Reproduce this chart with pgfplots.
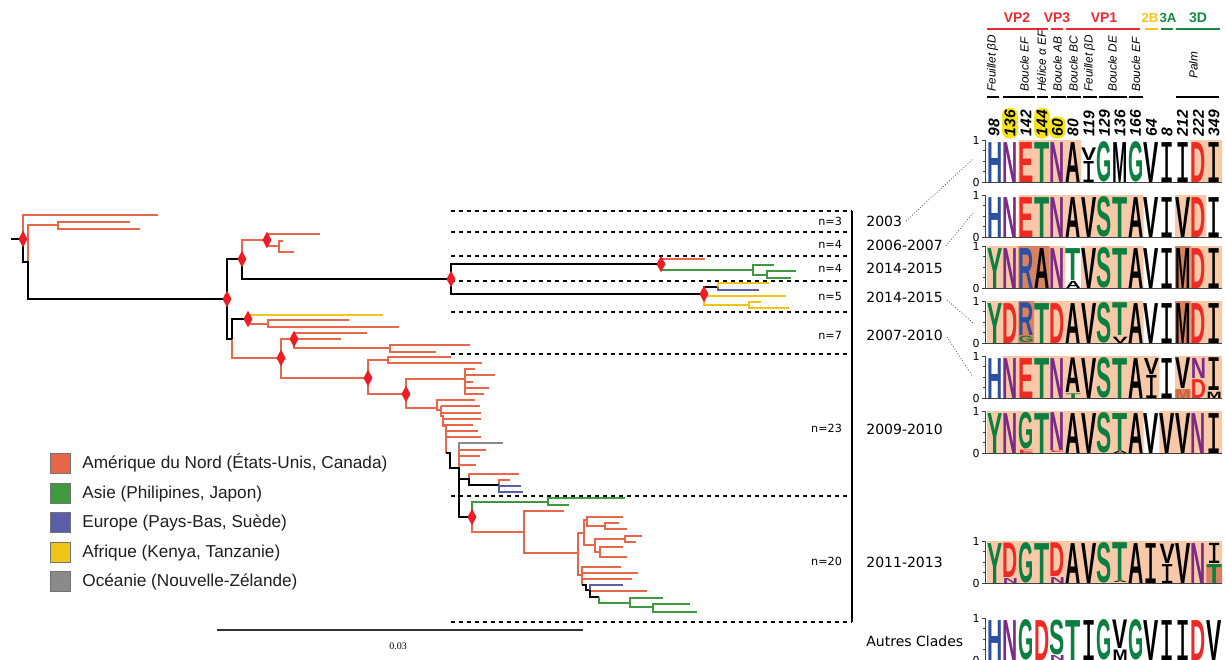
\documentclass[border=0pt]{standalone}
\usepackage{pgfplots}
\pgfplotsset{compat=1.18}
\usepackage{fontspec}
\usepackage{graphicx}
\setmainfont{Liberation Sans}
\newfontfamily\dvs{DejaVu Sans}
\newfontfamily\logof{Liberation Sans}
\newfontfamily\monof{DejaVu Sans Mono}
\newfontfamily\serf{Liberation Serif}
\definecolor{nab}{HTML}{E8674A}
\definecolor{asi}{HTML}{3F9A3F}
\definecolor{eur}{HTML}{5A5DA8}
\definecolor{afr}{HTML}{F0C419}
\definecolor{oce}{HTML}{8A8A8A}
\definecolor{dia}{HTML}{EE1C25}
\definecolor{lB}{HTML}{2A4FA3}
\definecolor{lP}{HTML}{7B2A88}
\definecolor{lR}{HTML}{EE2A24}
\definecolor{lG}{HTML}{0A7F3F}
\definecolor{lK}{HTML}{000000}
\definecolor{lO}{HTML}{C8643A}
\definecolor{peach}{HTML}{F7C9A9}
\definecolor{dpeach}{HTML}{D9825F}
\definecolor{hl}{HTML}{F6E31B}
\definecolor{vpred}{HTML}{EE2A2E}
\definecolor{vpy}{HTML}{F5C518}
\definecolor{vpg}{HTML}{138A43}
\newcommand\Imono{{\monof\mdseries I}}
\newcommand\LL[6]{\node[inner sep=0pt,outer sep=0pt,anchor=south,text=#5] at (axis cs:{987+15.667*(#2-0.5)},{#1-42*#3}) {\pgfmathsetlengthmacro\hh{21*#4}\resizebox{7.6pt}{\hh}{\logof\bfseries #6}};}
\newcommand\F[4]{\LL{#1}{#2}{0}{0.95}{#3}{#4}}
\newcommand\RECT[5]{\addplot[fill=#5, draw=none] coordinates {(#1,#3)(#2,#3)(#2,#4)(#1,#4)(#1,#3)};}
\newcommand\PANEL[5]{\addplot[black!75, line width=0.4pt] coordinates {(985,#2)(985,#1)(1222,#1) (nan,nan) (982,#1)(985,#1) (nan,nan) (983,#3)(985,#3) (nan,nan) (983,#4)(985,#4) (nan,nan) (983,#5)(985,#5) (nan,nan) (982,#2)(985,#2)};
\node[anchor=east, font=\dvs\fontsize{5.5}{6}\selectfont, inner sep=0.5pt] at (axis cs:981,#2) {1};
\node[anchor=east, font=\dvs\fontsize{5.5}{6}\selectfont, inner sep=0.5pt] at (axis cs:981,#1) {0};}
\newcommand\NUM[3]{\node[rotate=90, anchor=west, font=\bfseries\itshape\fontsize{7.8}{8}\selectfont, inner sep=0.3pt] at (axis cs:#1,#2) {#3};}
\newcommand\NUMH[3]{\node[rotate=90, anchor=west, font=\bfseries\itshape\fontsize{7.8}{8}\selectfont, inner sep=1.2pt, fill=hl, rounded corners=3.5pt] at (axis cs:#1,#2) {#3};}
\newcommand\HL[3]{\node[rotate=90, anchor=west, font=\itshape\fontsize{5.9}{6}\selectfont, inner sep=0pt] at (axis cs:#1,#2) {#3};}
\begin{document}
\begin{tikzpicture}
\useasboundingbox (0,0) rectangle (613pt,329.5pt);
\begin{axis}[at={(0,0)}, anchor=south west, width=613pt, height=329.5pt, scale only axis,
  xmin=0, xmax=1226, ymin=0, ymax=659, y dir=reverse, hide axis, clip=false,
  enlargelimits=false, unbounded coords=jump]
% ---------- tree: North America (orange)
\addplot[nab, line width=1pt] coordinates {
(23,239)(23,215)(158,215) (nan,nan)
(28,262)(28,225)(58,225) (nan,nan)
(130,222)(58,222)(58,229)(140,229) (nan,nan)
(242,259)(242,240)(267,240) (nan,nan)
(320,234)(267,234)(267,246)(279,246) (nan,nan)
(283,241)(279,241)(279,252)(294,252) (nan,nan)
(661,264)(661,259)(705,259) (nan,nan)
(248,319)(248,324)(268,324) (nan,nan)
(349,320)(268,320)(268,327)(399,327) (nan,nan)
(232,339)(232,358)(281,358) (nan,nan)
(294,339)(281,339)(281,378)(368,378) (nan,nan)
(367,333)(294,333)(294,348)(390,348) (nan,nan)
(294,339)(341,339) (nan,nan)
(470,345)(390,345)(390,352)(436,352) (nan,nan)
(368,378)(368,360)(388,360) (nan,nan)
(451,357)(388,357)(388,363)(482,363) (nan,nan)
(368,378)(368,394)(406,394) (nan,nan)
(406,394)(406,379)(465,379) (nan,nan)
(475,369)(465,369)(465,394)(484,394) (nan,nan)
(465,375)(495,375) (nan,nan)
(465,382)(473,382) (nan,nan)
(465,388)(489,388) (nan,nan)
(406,394)(406,408)(437,408) (nan,nan)
(475,400)(437,400)(437,410)(441,410) (nan,nan)
(441,406)(441,416)(443,416)(443,426)(446,426)(446,453) (nan,nan)
(441,406)(480,406) (nan,nan)
(441,413)(481,413) (nan,nan)
(443,419)(481,419) (nan,nan)
(443,425)(473,425) (nan,nan)
(446,431)(478,431) (nan,nan)
(446,437)(481,437) (nan,nan)
(459,450)(459,468) (nan,nan)
(459,450)(486,450) (nan,nan)
(459,456)(480,456) (nan,nan)
(459,465)(476,465) (nan,nan)
(469,479)(469,474)(519,474) (nan,nan)
(499,485)(499,480)(510,480) (nan,nan)
(472,517)(472,532)(524,532) (nan,nan)
(564,511)(524,511)(524,553)(578,553) (nan,nan)
(584,533)(578,533)(578,575)(582,575) (nan,nan)
(587,520)(584,520)(584,545)(595,545) (nan,nan)
(623,517)(587,517)(587,526)(605,526) (nan,nan)
(619,523)(605,523)(605,529)(627,529) (nan,nan)
(625,539)(595,539)(595,552)(600,552) (nan,nan)
(642,536)(625,536)(625,542)(636,542) (nan,nan)
(623,547)(600,547)(600,557)(627,557) (nan,nan)
(621,567)(582,567)(582,585) (nan,nan)
(582,573)(638,573) (nan,nan)
(582,579)(632,579) (nan,nan)
(590,590)(590,591)(647,591)
};
% black backbone
\addplot[black, line width=1.25pt] coordinates {
(11,239)(23,239)(23,262)(28,262)(28,299)(227,299) (nan,nan)
(242,259)(227,259)(227,339)(232,339) (nan,nan)
(232,339)(232,319)(248,319) (nan,nan)
(242,259)(242,279)(451,279) (nan,nan)
(661,264)(451,264)(451,294)(704,294) (nan,nan)
(704,294)(704,287)(718,287) (nan,nan)
(446,453)(450,453)(450,468)(459,468)(459,517)(472,517) (nan,nan)
(459,479)(469,479)(469,485)(499,485) (nan,nan)
(582,585)(586,585)(586,590)(590,590)(590,597)(599,597)
};
% Asia (green)
\addplot[asi, line width=1pt] coordinates {
(661,264)(661,270)(753,270) (nan,nan)
(774,265)(753,265)(753,275)(767,275) (nan,nan)
(796,271)(767,271)(767,278)(791,278) (nan,nan)
(472,517)(472,502)(548,502) (nan,nan)
(625,498)(548,498)(548,505)(569,505) (nan,nan)
(599,597)(599,603)(630,603) (nan,nan)
(663,598)(630,598)(630,607)(653,607) (nan,nan)
(690,604)(653,604)(653,612)(697,612)
};
% Africa (yellow)
\addplot[afr, line width=1pt] coordinates {
(248,319)(248,315)(383,315) (nan,nan)
(769,283)(718,283)(718,287) (nan,nan)
(704,294)(704,296)(786,296) (nan,nan)
(704,296)(704,305)(749,305) (nan,nan)
(761,302)(749,302)(749,308)(789,308)
};
% Europe (blue)
\addplot[eur, line width=1pt] coordinates {
(718,287)(718,290)(759,290) (nan,nan)
(521,486)(499,486)(499,492)(523,492) (nan,nan)
(590,590)(590,585)(623,585)
};
% Oceania (gray)
\addplot[oce, line width=1pt] coordinates {(503,443)(459,443)(459,450)};
% nodes
\addplot[only marks, mark=diamond*, mark size=3.7pt, mark options={xscale=0.72, fill=dia, draw=dia}] coordinates {
(23,239)(227,299)(242,259)(267,240)(451,279)(661,264)(704,294)(248,319)(281,358)(294,339)(368,378)(406,394)(472,517)};
% clade separators
\addplot[black, line width=0.6pt, dash pattern=on 2.2pt off 1.8pt] coordinates {
(451,211)(852,211) (nan,nan) (451,232)(852,232) (nan,nan) (451,256)(852,256) (nan,nan)
(451,281)(852,281) (nan,nan) (451,312)(852,312) (nan,nan) (451,354)(852,354) (nan,nan)
(451,496)(852,496) (nan,nan) (451,622)(852,622)};
\addplot[black, line width=0.7pt] coordinates {(852,211)(852,622)};
\node[anchor=east, font=\dvs\fontsize{5.6}{6}\selectfont] at (axis cs:849,221) {n=3};
\node[anchor=east, font=\dvs\fontsize{5.6}{6}\selectfont] at (axis cs:849,244) {n=4};
\node[anchor=east, font=\dvs\fontsize{5.6}{6}\selectfont] at (axis cs:849,268) {n=4};
\node[anchor=east, font=\dvs\fontsize{5.6}{6}\selectfont] at (axis cs:849,296) {n=5};
\node[anchor=east, font=\dvs\fontsize{5.6}{6}\selectfont] at (axis cs:849,335) {n=7};
\node[anchor=east, font=\dvs\fontsize{5.6}{6}\selectfont] at (axis cs:849,428) {n=23};
\node[anchor=east, font=\dvs\fontsize{5.6}{6}\selectfont] at (axis cs:849,561) {n=20};
% period labels
\node[anchor=west, font=\dvs\fontsize{7}{8}\selectfont, inner sep=0pt] at (axis cs:866,221) {2003};
\node[anchor=west, font=\dvs\fontsize{7}{8}\selectfont, inner sep=0pt] at (axis cs:866,245) {2006-2007};
\node[anchor=west, font=\dvs\fontsize{7}{8}\selectfont, inner sep=0pt] at (axis cs:866,268) {2014-2015};
\node[anchor=west, font=\dvs\fontsize{7}{8}\selectfont, inner sep=0pt] at (axis cs:866,297) {2014-2015};
\node[anchor=west, font=\dvs\fontsize{7}{8}\selectfont, inner sep=0pt] at (axis cs:866,335) {2007-2010};
\node[anchor=west, font=\dvs\fontsize{7}{8}\selectfont, inner sep=0pt] at (axis cs:866,429) {2009-2010};
\node[anchor=west, font=\dvs\fontsize{7}{8}\selectfont, inner sep=0pt] at (axis cs:866,562) {2011-2013};
\node[anchor=west, font=\dvs\fontsize{7}{8}\selectfont, inner sep=0pt] at (axis cs:866,641) {Autres Clades};
\addplot[black!70, line width=0.4pt, densely dotted] coordinates {
(906,221)(973,159) (nan,nan) (946,246)(973,213) (nan,nan) (947,300)(973,323) (nan,nan) (947,337)(973,377)};
% scale bar
\addplot[black!80, line width=0.6pt] coordinates {(217,630)(583,630)};
\node[font=\serf\fontsize{5}{6}\selectfont] at (axis cs:398,646) {0.03};
% legend
\addplot[fill=nab, draw=black!55, line width=0.35pt] coordinates {(50,453)(70,453)(70,473)(50,473)(50,453)};
\addplot[fill=asi, draw=black!55, line width=0.35pt] coordinates {(50,483)(70,483)(70,503)(50,503)(50,483)};
\addplot[fill=eur, draw=black!55, line width=0.35pt] coordinates {(50,512)(70,512)(70,532)(50,532)(50,512)};
\addplot[fill=afr, draw=black!55, line width=0.35pt] coordinates {(50,542)(70,542)(70,562)(50,562)(50,542)};
\addplot[fill=oce, draw=black!55, line width=0.35pt] coordinates {(50,571)(70,571)(70,591)(50,591)(50,571)};
\node[anchor=base west, font=\fontsize{8.6}{10}\selectfont, inner sep=0pt, text=black!88] at (axis cs:82,468.5) {Amérique du Nord (États-Unis, Canada)};
\node[anchor=base west, font=\fontsize{8.6}{10}\selectfont, inner sep=0pt, text=black!88] at (axis cs:82,498.5) {Asie (Philipines, Japon)};
\node[anchor=base west, font=\fontsize{8.6}{10}\selectfont, inner sep=0pt, text=black!88] at (axis cs:82,527.5) {Europe (Pays-Bas, Suède)};
\node[anchor=base west, font=\fontsize{8.6}{10}\selectfont, inner sep=0pt, text=black!88] at (axis cs:82,557.5) {Afrique (Kenya, Tanzanie)};
\node[anchor=base west, font=\fontsize{8.6}{10}\selectfont, inner sep=0pt, text=black!88] at (axis cs:82,586.5) {Océanie (Nouvelle-Zélande)};
% ---------- header
\node[font=\bfseries\fontsize{7}{8}\selectfont, text=vpred] at (axis cs:1017,18) {VP2};
\node[font=\bfseries\fontsize{7}{8}\selectfont, text=vpred] at (axis cs:1057,18) {VP3};
\node[font=\bfseries\fontsize{7}{8}\selectfont, text=vpred] at (axis cs:1104,18) {VP1};
\node[font=\bfseries\fontsize{6.6}{8}\selectfont, text=vpy, inner sep=0pt] at (axis cs:1150,18) {2B};
\node[font=\bfseries\fontsize{6.6}{8}\selectfont, text=vpg, inner sep=0pt] at (axis cs:1168,18) {3A};
\node[font=\bfseries\fontsize{7}{8}\selectfont, text=vpg] at (axis cs:1198,18) {3D};
\addplot[vpred, line width=1pt] coordinates {(987,29)(1048,29) (nan,nan) (1051,29)(1063,29) (nan,nan) (1066,29)(1140,29)};
\addplot[vpy, line width=1pt] coordinates {(1145,29)(1158,29)};
\addplot[vpg, line width=1pt] coordinates {(1161,29)(1173,29) (nan,nan) (1176,29)(1220,29)};
\HL{992.5}{92}{Feuillet βD}
\HL{1024.5}{92}{Boucle EF}
\HL{1041.5}{92}{Hélice α EF}
\HL{1057.5}{92}{Boucle AB}
\HL{1073.5}{92}{Boucle BC}
\HL{1089.5}{92}{Feuillet βD}
\HL{1112.5}{92}{Boucle DE}
\HL{1136}{92}{Boucle EF}
\HL{1193.5}{79}{Palm}
\addplot[black, line width=0.8pt] coordinates {
(987,97)(999,97) (nan,nan) (1003,97)(1035,97) (nan,nan) (1037,97)(1048,97) (nan,nan)
(1051,97)(1066,97) (nan,nan) (1067,97)(1081,97) (nan,nan) (1083,97)(1097,97) (nan,nan)
(1099,97)(1127,97) (nan,nan) (1129,97)(1143,97) (nan,nan) (1176,97)(1219,97)};
\NUM{994}{137}{98}
\NUMH{1010}{139}{136}
\NUM{1026}{137}{142}
\NUMH{1042}{139}{144}
\NUMH{1057.5}{139}{60}
\NUM{1073}{137}{80}
\NUM{1089}{137}{119}
\NUM{1104.5}{137}{129}
\NUM{1120}{137}{136}
\NUM{1135.5}{137}{166}
\NUM{1151.5}{137}{64}
\NUM{1167}{137}{8}
\NUM{1182.5}{137}{212}
\NUM{1198.5}{137}{222}
\NUM{1214}{137}{349}
% ---------- logo backgrounds
\RECT{1018.33}{1081}{140}{182}{peach}
\RECT{1190.67}{1222}{140}{182}{peach}
\RECT{1018.33}{1143.67}{195}{237}{peach}
\RECT{1175}{1206.33}{195}{237}{peach}
\RECT{987}{1065.33}{246}{288}{peach}
\RECT{1081}{1143.67}{246}{288}{peach}
\RECT{1175}{1222}{246}{288}{peach}
\RECT{1018.33}{1049.67}{246}{288}{dpeach}
\RECT{1175}{1190.67}{246}{288}{dpeach}
\RECT{987}{1143.67}{301}{343}{peach}
\RECT{1175}{1222}{301}{343}{peach}
\RECT{1018.33}{1034}{301}{343}{dpeach}
\RECT{1175}{1190.67}{301}{343}{dpeach}
\RECT{1002.67}{1159.33}{356}{398}{peach}
\RECT{1175}{1222}{356}{398}{peach}
\RECT{1175}{1190.67}{389}{398}{dpeach}
\RECT{987}{1143.67}{411}{453}{peach}
\RECT{1159.33}{1222}{411}{453}{peach}
\RECT{987}{1222}{541}{583}{peach}
\RECT{1206.33}{1222}{564}{583}{dpeach}
\PANEL{182}{140}{171.5}{161}{150.5}
\PANEL{237}{195}{226.5}{216}{205.5}
\PANEL{288}{246}{277.5}{267}{256.5}
\PANEL{343}{301}{332.5}{322}{311.5}
\PANEL{398}{356}{387.5}{377}{366.5}
\PANEL{453}{411}{442.5}{432}{421.5}
\PANEL{583}{541}{572.5}{562}{551.5}
\PANEL{660}{618}{649.5}{639}{628.5}
% ---------- logo letters
% P1 2003
\F{182}{1}{lB}{H}\F{182}{2}{lP}{N}\F{182}{3}{lR}{E}\F{182}{4}{lG}{T}\F{182}{5}{lP}{N}\F{182}{6}{lK}{A}
\LL{182}{7}{0}{0.5}{lK}{\Imono}\LL{182}{7}{0.52}{0.3}{lK}{V}
\F{182}{8}{lG}{G}\F{182}{9}{lK}{M}\F{182}{10}{lG}{G}\F{182}{11}{lK}{V}\F{182}{12}{lK}{\Imono}\F{182}{13}{lK}{\Imono}\F{182}{14}{lR}{D}\F{182}{15}{lK}{\Imono}
% P2 2006-2007
\F{237}{1}{lB}{H}\F{237}{2}{lP}{N}\F{237}{3}{lR}{E}\F{237}{4}{lG}{T}\F{237}{5}{lP}{N}\F{237}{6}{lK}{A}\F{237}{7}{lK}{V}\F{237}{8}{lG}{S}
\F{237}{9}{lG}{T}\F{237}{10}{lK}{A}\F{237}{11}{lK}{V}\F{237}{12}{lK}{\Imono}\F{237}{13}{lK}{V}\F{237}{14}{lR}{D}\F{237}{15}{lK}{\Imono}
% P3 2014-2015
\F{288}{1}{lG}{Y}\F{288}{2}{lP}{N}\F{288}{3}{lB}{R}\F{288}{4}{lK}{A}\F{288}{5}{lP}{N}
\LL{288}{6}{0}{0.17}{lK}{A}\LL{288}{6}{0.19}{0.76}{lG}{T}
\F{288}{7}{lK}{V}\F{288}{8}{lG}{S}\F{288}{9}{lG}{T}\F{288}{10}{lK}{A}\F{288}{11}{lK}{V}\F{288}{12}{lK}{\Imono}\F{288}{13}{lK}{M}\F{288}{14}{lR}{D}\F{288}{15}{lK}{\Imono}
% P4 2014-2015
\F{343}{1}{lG}{Y}\F{343}{2}{lR}{D}
\LL{343}{3}{0}{0.15}{lG}{G}\LL{343}{3}{0.17}{0.78}{lB}{R}
\F{343}{4}{lG}{T}\F{343}{5}{lR}{D}\F{343}{6}{lK}{A}\F{343}{7}{lK}{V}\F{343}{8}{lG}{S}
\LL{343}{9}{0}{0.15}{lK}{V}\LL{343}{9}{0.17}{0.78}{lG}{T}
\F{343}{10}{lK}{A}\F{343}{11}{lK}{V}\F{343}{12}{lK}{\Imono}\F{343}{13}{lK}{M}\F{343}{14}{lR}{D}\F{343}{15}{lK}{\Imono}
% P5 2007-2010
\F{398}{1}{lB}{H}\F{398}{2}{lP}{N}\F{398}{3}{lR}{E}\F{398}{4}{lG}{T}\F{398}{5}{lP}{N}
\LL{398}{6}{0}{0.11}{lG}{T}\LL{398}{6}{0.13}{0.82}{lK}{A}
\F{398}{7}{lK}{V}\F{398}{8}{lG}{S}\F{398}{9}{lG}{T}\F{398}{10}{lK}{A}
\LL{398}{11}{0}{0.55}{lK}{\Imono}\LL{398}{11}{0.57}{0.38}{lK}{V}
\F{398}{12}{lK}{\Imono}
\LL{398}{13}{0}{0.2}{lO}{M}\LL{398}{13}{0.22}{0.73}{lK}{V}
\LL{398}{14}{0}{0.45}{lR}{D}\LL{398}{14}{0.47}{0.48}{lP}{N}
\LL{398}{15}{0}{0.15}{lK}{M}\LL{398}{15}{0.17}{0.78}{lK}{\Imono}
% P6 2009-2010
\F{453}{1}{lG}{Y}\F{453}{2}{lP}{N}
\LL{453}{3}{0}{0.08}{lR}{E}\LL{453}{3}{0.09}{0.86}{lG}{G}
\F{453}{4}{lG}{T}
\LL{453}{5}{0}{0.04}{lR}{E}\LL{453}{5}{0.05}{0.9}{lP}{N}
\F{453}{6}{lK}{A}\F{453}{7}{lK}{V}\F{453}{8}{lG}{S}
\LL{453}{9}{0}{0.06}{lK}{A}\LL{453}{9}{0.07}{0.88}{lG}{T}
\F{453}{10}{lK}{A}\F{453}{11}{lK}{V}\F{453}{12}{lK}{V}\F{453}{13}{lK}{V}\F{453}{14}{lP}{N}\F{453}{15}{lK}{\Imono}
% P7 2011-2013
\F{583}{1}{lG}{Y}
\LL{583}{2}{0}{0.12}{lP}{N}\LL{583}{2}{0.13}{0.82}{lR}{D}
\F{583}{3}{lG}{G}\F{583}{4}{lG}{T}
\LL{583}{5}{0}{0.14}{lP}{N}\LL{583}{5}{0.15}{0.8}{lR}{D}
\F{583}{6}{lK}{A}\F{583}{7}{lK}{V}\F{583}{8}{lG}{S}
\LL{583}{9}{0}{0.04}{lK}{A}\LL{583}{9}{0.05}{0.9}{lG}{T}
\F{583}{10}{lK}{A}\F{583}{11}{lK}{\Imono}
\LL{583}{12}{0}{0.45}{lK}{\Imono}\LL{583}{12}{0.47}{0.46}{lK}{V}
\F{583}{13}{lK}{V}\F{583}{14}{lP}{N}
\LL{583}{15}{0}{0.45}{lG}{T}\LL{583}{15}{0.47}{0.48}{lK}{\Imono}
% P8 Autres clades
\F{660}{1}{lB}{H}\F{660}{2}{lP}{N}\F{660}{3}{lG}{G}\F{660}{4}{lR}{D}
\LL{660}{5}{0}{0.12}{lP}{N}\LL{660}{5}{0.13}{0.82}{lG}{S}
\F{660}{6}{lG}{T}\F{660}{7}{lK}{\Imono}\F{660}{8}{lG}{G}
\LL{660}{9}{0}{0.25}{lK}{M}\LL{660}{9}{0.27}{0.68}{lK}{V}
\F{660}{10}{lG}{G}\F{660}{11}{lK}{V}\F{660}{12}{lK}{\Imono}\F{660}{13}{lK}{\Imono}\F{660}{14}{lR}{D}\F{660}{15}{lK}{V}
\end{axis}
\end{tikzpicture}
\end{document}
